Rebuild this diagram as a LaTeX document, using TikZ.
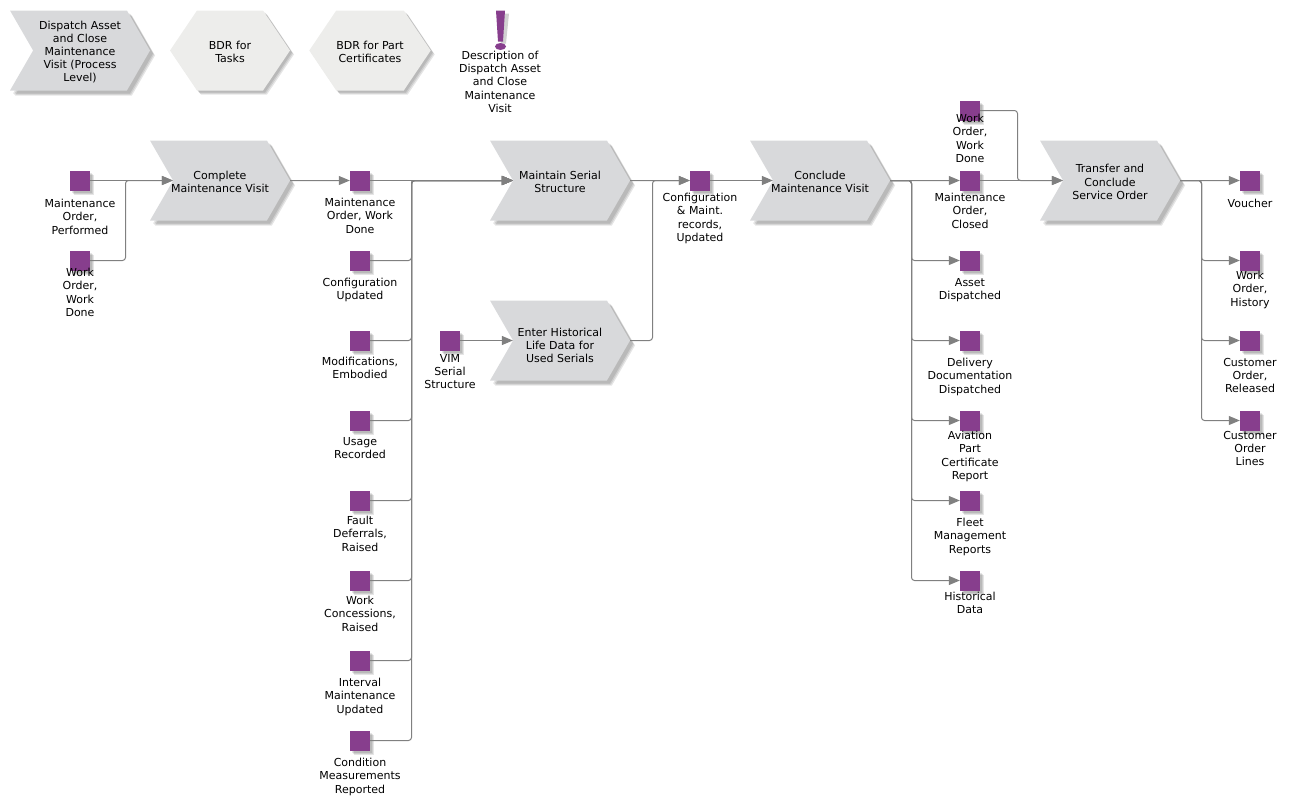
\documentclass[tikz,border=0pt]{standalone}
\usepackage{fontspec}
\setmainfont{DejaVu Sans}
\usepackage{xcolor}
\usepackage{tikz}
\usetikzlibrary{positioning}
\usetikzlibrary{arrows.meta}
\usetikzlibrary{shapes.symbols, shadows}
\definecolor{funcgray}{HTML}{D8D9DB}
\definecolor{hexgray}{HTML}{EDEDEB}
\definecolor{infopurple}{HTML}{873E8D}
\definecolor{linegray}{HTML}{808080}
\newcommand{\topgap}[1]{\rule{0pt}{#1pt}}

\begin{document}
\begin{tikzpicture}[
				x=1pt, y=-1pt,
				softshadow/.style={drop shadow={shadow xshift=#1-1pt, shadow yshift=1pt-#1, fill=black, opacity=0.1}, drop shadow={shadow xshift=#1, shadow yshift=-#1, fill=black, opacity=0.1}, drop shadow={shadow xshift=#1+1pt, shadow yshift=-1pt-#1, fill=black, opacity=0.1}},
				txt/.style={align=center, inner xsep=0pt, inner ysep=1.5pt, font=\fontsize{11}{13.2}\selectfont, execute at begin node=\strut, execute at end node=\strut, text=black},
				func/.style={txt, signal, signal to=east, signal from=west, signal pointer angle=120, inner xsep=-20pt, minimum width=140pt, minimum height=80pt, fill=funcgray, softshadow=4pt},
				hexa/.style={txt, signal, signal to=east and west, signal from=nowhere, signal pointer angle=112, minimum width=120pt, minimum height=80pt, fill=hexgray, softshadow=3pt},
				info/.style={rectangle, inner sep=0pt, minimum size=20pt, fill=infopurple, softshadow=3pt},
				conn/.style={draw=linegray, line width=1pt, rounded corners=3pt},
				arrow/.style={conn, -{Triangle[length=11pt, width=9pt, fill=linegray]}}
			]
			\useasboundingbox (0,-0.5) rectangle (1292,805.5);

			% Header row
			\node[func] (head) at (80,50) {\topgap{14}Dispatch Asset\\and Close\\Maintenance\\Visit (Process\\Level)};
			\node[hexa] (tasks) at (230,50) {\topgap{15}BDR for\\Tasks};
			\node[hexa] (certs) at (370,50) {\topgap{15}BDR for Part\\Certificates};
			\fill[black!18] (498,13) -- (509,13) -- (506,43) -- (501,43) -- cycle;
			\fill[infopurple] (496,10) -- (505,10) -- (503,41) -- (498,41) -- cycle;
			\fill[infopurple] (500.5,46) ellipse [x radius=5.5pt, y radius=3.5pt];
			\coordinate (mark) at (500,48);
			\node[txt, below=1pt of mark] (markt) {Description of\\Dispatch Asset\\and Close\\Maintenance\\Visit};

			% Main workflow
			\node[func] (cmv) at (220,180) {\topgap{15}Complete\\Maintenance Visit};
			\node[func] (mss) at (560,180) {\topgap{15}Maintain Serial\\Structure};
			\node[func] (ehl) at (560,340) {\topgap{22}Enter Historical\\Life Data for\\Used Serials};
			\node[func] (cnc) at (820,180) {\topgap{15}Conclude\\Maintenance Visit};
			\node[func] (tcs) at (1110,180) {\topgap{15}Transfer and\\Conclude\\Service Order};

			% Inputs
			\node[info] (mop) at (80,180) {};
			\node[info] (wwd) at (80,260) {};
			\node[txt, below=7pt of mop] (mopt) {Maintenance\\Order,\\Performed};
			\node[txt, below=-4pt of wwd] (wwdt) {Work\\Order,\\Work\\Done};

			% Outputs of the visit
			\node[info] (mow) at (360,180) {};
			\node[info] (cfu) at (360,260) {};
			\node[info] (mde) at (360,340) {};
			\node[info] (usr) at (360,420) {};
			\node[info] (fdr) at (360,500) {};
			\node[info] (wcr) at (360,580) {};
			\node[info] (imu) at (360,660) {};
			\node[info] (cmr) at (360,740) {};
			\node[txt, below=6pt of mow] (mowt) {Maintenance\\Order, Work\\Done};
			\node[txt, below=6pt of cfu] (cfut) {Configuration\\Updated};
			\node[txt, below=5pt of mde] (mdet) {Modifications,\\Embodied};
			\node[txt, below=5pt of usr] (usrt) {Usage\\Recorded};
			\node[txt, below=4pt of fdr] (fdrt) {Fault\\Deferrals,\\Raised};
			\node[txt, below=4pt of wcr] (wcrt) {Work\\Concessions,\\Raised};
			\node[txt, below=6pt of imu] (imut) {Interval\\Maintenance\\Updated};
			\node[txt, below=6pt of cmr] (cmrt) {Condition\\Measurements\\Reported};

			\node[info] (vim) at (450,340) {};
			\node[txt, below=2pt of vim] (vimt) {VIM\\Serial\\Structure};
			\node[info] (cmu) at (700,180) {};
			\node[txt, below=1pt of cmu] (cmut) {Configuration\\\& Maint.\\records,\\Updated};

			% Outputs of the conclusion
			\node[info] (wwd2) at (970,110) {};
			\node[info] (moc) at (970,180) {};
			\node[info] (adi) at (970,260) {};
			\node[info] (ddi) at (970,340) {};
			\node[info] (apc) at (970,420) {};
			\node[info] (fmr) at (970,500) {};
			\node[info] (hid) at (970,580) {};
			\node[txt, below=-8pt of wwd2] (wwd2t) {Work\\Order,\\Work\\Done};
			\node[txt, below=1pt of moc] (moct) {Maintenance\\Order,\\Closed};
			\node[txt, below=6pt of adi] (adit) {Asset\\Dispatched};
			\node[txt, below=6pt of ddi] (ddit) {Delivery\\Documentation\\Dispatched};
			\node[txt, below=-1pt of apc] (apct) {Aviation\\Part\\Certificate\\Report};
			\node[txt, below=6pt of fmr] (fmrt) {Fleet\\Management\\Reports};
			\node[txt, below=0pt of hid] (hidt) {Historical\\Data};

			\node[info] (vou) at (1250,180) {};
			\node[info] (woh) at (1250,260) {};
			\node[info] (cor) at (1250,340) {};
			\node[info] (col) at (1250,420) {};
			\node[txt, below=6pt of vou] (vout) {Voucher};
			\node[txt, below=-1pt of woh] (woht) {Work\\Order,\\History};
			\node[txt, below=6pt of cor] (cort) {Customer\\Order,\\Released};
			\node[txt, below=-1pt of col] (colt) {Customer\\Order\\Lines};

			% Junctions
			\coordinate (j1) at (125.5,180);
			\coordinate (j2) at (411.5,180);
			\coordinate (j3) at (652.5,180);
			\coordinate (j4) at (911.5,180);
			\coordinate (j5) at (1017.5,180);
			\coordinate (j6) at (1201.5,180);

			% Connectors
			\draw[arrow] (mop) -- (cmv.west);
			\draw[arrow] (wwd) -| (j1) -- (cmv.west);
			\draw[arrow] (cmv) -- (mow);

			\draw[arrow] (mow) -- (mss.west);
			\draw[arrow] (cfu) -| (j2) -- (mss.west);
			\draw[arrow] (mde) -| (j2) -- (mss.west);
			\draw[arrow] (usr) -| (j2) -- (mss.west);
			\draw[arrow] (fdr) -| (j2) -- (mss.west);
			\draw[arrow] (wcr) -| (j2) -- (mss.west);
			\draw[arrow] (imu) -| (j2) -- (mss.west);
			\draw[arrow] (cmr) -| (j2) -- (mss.west);
			\draw[arrow] (vim) -- (ehl.west);

			\draw[arrow] (mss) -- (cmu);
			\draw[arrow] (ehl) -| (j3) -- (cmu);
			\draw[arrow] (cmu) -- (cnc.west);

			\draw[arrow] (cnc) -- (moc);
			\draw[arrow] (cnc) -- (j4) |- (adi);
			\draw[arrow] (cnc) -- (j4) |- (ddi);
			\draw[arrow] (cnc) -- (j4) |- (apc);
			\draw[arrow] (cnc) -- (j4) |- (fmr);
			\draw[arrow] (cnc) -- (j4) |- (hid);

			\draw[arrow] (moc) -- (tcs.west);
			\draw[arrow] (wwd2) -| (j5) -- (tcs.west);

			\draw[arrow] (tcs) -- (vou);
			\draw[arrow] (tcs) -- (j6) |- (woh);
			\draw[arrow] (tcs) -- (j6) |- (cor);
			\draw[arrow] (tcs) -- (j6) |- (col);

		\end{tikzpicture}
\end{document}
